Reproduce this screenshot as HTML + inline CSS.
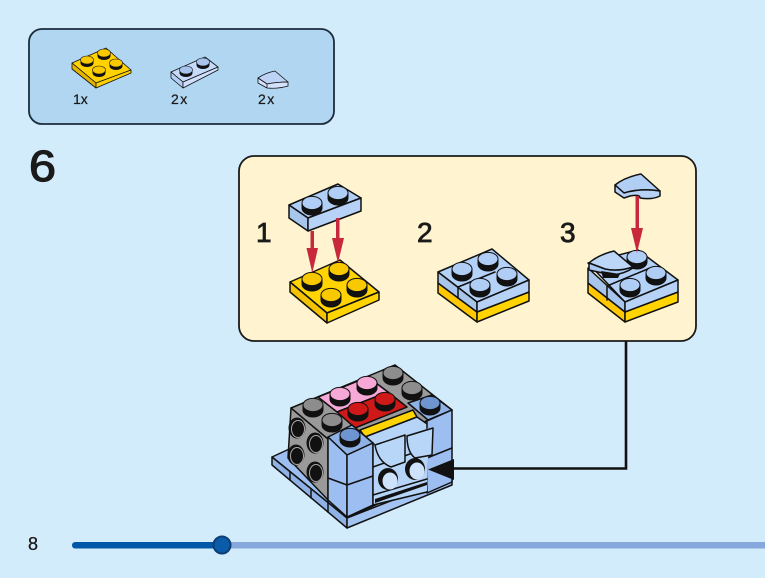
<!DOCTYPE html>
<html><head><meta charset="utf-8"><style>
html,body{margin:0;padding:0;background:#d3ecfc}
svg{display:block}
text{font-family:"Liberation Sans",sans-serif;fill:#1a1a1a;stroke:#1a1a1a}
.k{stroke:#111;stroke-width:1.5;stroke-linejoin:round;stroke-linecap:round}
.t{stroke:#111;stroke-width:.8;stroke-linejoin:round}
</style></head><body>
<svg width="765" height="578" viewBox="0 0 765 578" xmlns="http://www.w3.org/2000/svg">
<defs>
<g id="s"><path d="M-10 0V5A10 7 0 0 0 10 5V0Z" fill="#111" stroke="#111"/><ellipse cx="0" cy="0" rx="10" ry="6.6" fill="currentColor" stroke="#111" stroke-width="1"/></g>
<g id="m"><path d="M-6.500 0V3A6.500 4 0 0 0 6.500 3V0Z" fill="#111"/><ellipse cx="0" cy="0" rx="6.500" ry="4" fill="currentColor" stroke="#111" stroke-width=".6"/></g>
<g id="d"><ellipse cx="0" cy="0" rx="8.500" ry="10.500" fill="#111"/><ellipse cx="1" cy="1" rx="6.500" ry="8.500" fill="none" stroke="#a8a8a8" stroke-width="1"/><ellipse cx="2" cy="1.500" rx="4.500" ry="6.500" fill="#111"/></g>
</defs>
<rect width="765" height="578" fill="#d3ecfc"/>

<!-- parts panel -->
<rect x="29" y="29" width="305" height="95" rx="13" fill="#b0d6f2" stroke="#1c2c3c" stroke-width="1.8"/>
<g class="t">
<polygon points="72,63 106,48 131,70 96,83" fill="#ffd200"/>
<polygon points="72,63 96,83 96,88 72,69" fill="#e5b400"/>
<polygon points="96,83 131,70 131,73 96,88" fill="#fdd000"/>
</g>
<g color="#f8c800"><use href="#m" x="87" y="60"/><use href="#m" x="104" y="53"/><use href="#m" x="116" y="63"/><use href="#m" x="99" y="70"/></g>
<g class="t" stroke-width=".6">
<polygon points="171,72 205,57 218,67 183,82" fill="#c6dafa"/>
<polygon points="171,72 183,82 183,88 171,78" fill="#b4cdf2"/>
<polygon points="183,82 218,67 218,70 183,88" fill="#cfe0fb"/>
</g>
<g color="#a9c4ec"><use href="#m" x="186" y="70"/><use href="#m" x="203" y="62"/></g>
<g class="t">
<path d="M258 78Q265 73 275 71L288 82Q277 82 267 84Z" fill="#bcd3f6"/>
<path d="M258 78L267 84V88L258 83ZM267 84Q277 82 288 82V86Q278 89 267 88Z" fill="#d4e3fb"/>
</g>
<text x="73" y="104" font-size="14" stroke-width=".25">1x</text>
<text x="171" y="104" font-size="14" stroke-width=".25" letter-spacing="1.500">2x</text>
<text x="258" y="104" font-size="14" stroke-width=".25" letter-spacing="1.500">2x</text>

<text x="29" y="181" font-size="44" stroke-width="1.200" textLength="27" lengthAdjust="spacingAndGlyphs">6</text>

<!-- connector -->
<path d="M626 340V468.500H440" fill="none" stroke="#111" stroke-width="2.600"/>

<!-- callout -->
<rect x="239" y="156" width="457" height="185" rx="15" fill="#fff4cf" stroke="#1a1a1a" stroke-width="1.800"/>
<text x="256" y="242" font-size="28" stroke-width=".8">1</text>
<text x="417" y="242" font-size="28" stroke-width=".8">2</text>
<text x="560" y="242" font-size="28" stroke-width=".8">3</text>

<!-- step 1 -->
<g class="k">
<polygon points="290,282 340,260 379,292 327,313" fill="#ffd400"/>
<polygon points="290,282 327,313 327,323 290,292" fill="#f3c200"/>
<polygon points="327,313 379,292 379,300 327,323" fill="#ffd400"/>
</g>
<g color="#f8c800"><use href="#s" x="312" y="279"/><use href="#s" x="339" y="269"/><use href="#s" x="357" y="285"/><use href="#s" x="331" y="295"/></g>
<g class="k">
<polygon points="289,205 338,184 361,198 308,218" fill="#b1cff5"/>
<polygon points="289,205 308,218 308,231 289,218" fill="#a8c5ec"/>
<polygon points="308,218 361,198 361,211 308,231" fill="#b6d2f7"/>
</g>
<g color="#b0cdf5"><use href="#s" x="312" y="203"/><use href="#s" x="338" y="193"/></g>
<g fill="#c8283c">
<rect x="310.500" y="231" width="3.500" height="20"/><polygon points="306.500,248 318,248 312.300,273"/>
<rect x="336" y="218" width="3.500" height="22"/><polygon points="332,238 344,238 338,263"/>
</g>

<!-- step 2 -->
<g class="k">
<polygon points="438,283 477,312 477,322 438,293" fill="#ffc800"/>
<polygon points="477,312 529,292 529,301 477,322" fill="#ffd400"/>
<polygon points="438,272 492,249 529,280 477,302" fill="#b4d1f7"/>
<polygon points="438,272 477,302 477,312 438,283" fill="#a8c5ec"/>
<polygon points="477,302 529,280 529,292 477,312" fill="#b6d2f7"/>
<path d="M458 287L495 272M458 287V298" fill="none"/>
</g>
<g color="#b0cdf5"><use href="#s" x="462" y="269"/><use href="#s" x="488" y="259"/><use href="#s" x="507" y="274"/><use href="#s" x="480" y="285"/></g>

<!-- step 3 -->
<g class="k">
<polygon points="588,283 625,312 625,322 588,293" fill="#ffc800"/>
<polygon points="625,312 678,292 678,302 625,322" fill="#ffd400"/>
<polygon points="588,263 638,250 678,280 625,302" fill="#b4d1f7"/>
<polygon points="588,268 625,302 625,312 588,283" fill="#a8c5ec"/>
<polygon points="625,302 678,280 678,292 625,312" fill="#b6d2f7"/>
<path d="M607 286V300M607 286L650 268" fill="none"/>
</g>
<g color="#b0cdf5"><use href="#s" x="637" y="257"/><use href="#s" x="656" y="273"/><use href="#s" x="630" y="285"/></g>
<g class="k">
<path d="M589 263Q598 255 614 251L633 267Q618 272 605 269Z" fill="#bcd6f7"/>
<path d="M589 263L605 269Q618 272 633 267V268Q624 274 612 275L589 270Z" fill="#a9c8f2"/>
</g>
<path d="M601 271L620 274L618 278L603 278Z" fill="#111"/>
<g class="k">
<path d="M615 185Q625 177 641 174L660 191Q640 188 624 193Z" fill="#b1cff5"/>
<path d="M615 185L624 193Q640 188 660 191V196Q652 200 640 198Q640 194 630 196L624 198L615 192Z" fill="#b6d2f7"/>
</g>
<g fill="#c8283c">
<rect x="635.500" y="196" width="3.500" height="34"/><polygon points="631,228 643,228 637,253"/>
</g>

<!-- model: base -->
<g class="k">
<polygon points="272,457 300,444 452,470 347,518" fill="#9dbef0"/>
<polygon points="272,457 347,518 347,528 272,465" fill="#8fb2e6"/>
<polygon points="347,518 452,477 452,485 347,528" fill="#a3c3f2"/>
<path d="M290 472V480M311 490V498M328 500V512" fill="none"/>
</g>
<!-- left gray -->
<polygon class="k" points="291,408 328,437 328,500 288,458" fill="#9a9a9a"/>
<use href="#d" x="297" y="428"/><use href="#d" x="315" y="443"/><use href="#d" x="296" y="455"/><use href="#d" x="315" y="472"/>
<!-- top -->
<g class="k">
<polygon points="291,408 395,365 452,410 347,455" fill="#9a9a9a"/>
<polygon points="318,397 368,377 388,392 337,412" fill="#f6a8d6"/>
<polygon points="337,412 388,392 407,407 355,428" fill="#cf1818"/>
<polygon points="360,430 413,410 417,417 365,437" fill="#ffd400"/>
<polygon points="408,403 432,395 452,410 428,420" fill="#8fb2e6"/>
<polygon points="365,437 417,417 433,428 375,445" fill="#b6d4f7"/>
<!-- blue left column -->
<polygon points="328,437 352,425 373,443 347,455" fill="#8fb2e6"/>
<polygon points="328,437 347,455 347,517 328,500" fill="#9dbef0"/>
<polygon points="347,455 373,443 373,505 347,517" fill="#9dbef0"/>
<path d="M328 478L347 485L373 476" fill="none"/>
<!-- right column -->
<polygon points="427,421 452,410 452,482 427,493" fill="#9dbef0"/>
<path d="M427 458L452 448" fill="none"/>
</g>
<!-- centre recess -->
<polygon points="373,445 433,427 428,458 427,491 373,505" fill="#b6d4f7"/>
<g class="k" stroke-width="1.200">
<path d="M373 467L427 448" fill="none"/>
<path d="M407 436L433 428L432 455L415 458Q407 452 407 436Z" fill="#b8d6f8"/>
<path d="M375 445L405 435V462L391 467Q378 462 375 445Z" fill="#b8d6f8"/>
<path d="M373 495L427 479" fill="none"/>
<path d="M373 443V505L427 492" fill="none"/>
</g>
<path d="M375 503L427 485L427 482L375 499Z" fill="#111"/>
<g color="#8d8d8d"><use href="#s" x="313" y="405"/><use href="#s" x="332" y="420"/><use href="#s" x="393" y="373"/><use href="#s" x="412" y="388"/></g>
<g color="#f6a8d6"><use href="#s" x="340" y="394"/><use href="#s" x="367" y="383"/></g>
<g color="#cf1818"><use href="#s" x="358" y="409"/><use href="#s" x="385" y="399"/></g>
<g color="#6f95d0"><use href="#s" x="350" y="435"/><use href="#s" x="430" y="403"/></g>
<ellipse cx="388" cy="479" rx="10" ry="11" fill="#111"/><ellipse cx="390" cy="481" rx="7.500" ry="8.500" fill="#cfe2fb"/>
<ellipse cx="415" cy="469" rx="10" ry="11" fill="#111"/><ellipse cx="417" cy="471" rx="7.500" ry="8.500" fill="#cfe2fb"/>
<polygon points="428,469.500 454,459 454,480" fill="#111"/>

<!-- footer -->
<text x="28" y="550" font-size="18" stroke-width=".3">8</text>
<rect x="222" y="542" width="543" height="6.500" fill="#86a8dc"/>
<rect x="72" y="542" width="150" height="6.500" rx="3.200" fill="#0057a8"/>
<circle cx="222" cy="545" r="8.500" fill="#0a5cab" stroke="#0d3f73" stroke-width="2"/>
</svg>
</body></html>
